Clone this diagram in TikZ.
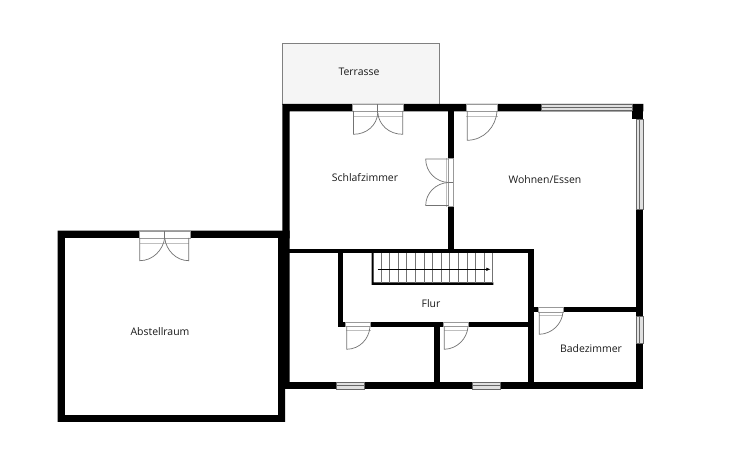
\documentclass[tikz,border=0pt]{standalone}
\usepackage{fontspec}
\usetikzlibrary{arrows.meta}
\setmainfont{Open Sans}
\tikzset{
  wall/.style={fill=black,draw=none},
  opening/.style={fill=white,draw=black!40,line width=.3pt},
  leaf/.style={draw=black!55,line width=.4pt},
  sill/.style={draw=black!25,line width=.4pt},
  glazing/.style={fill=black!12,draw=black!60,line width=.4pt},
  tread/.style={draw=black!55,line width=.4pt},
  roomlabel/.style={font=\fontsize{5.95}{7}\selectfont,text=black!90,inner sep=0pt}
}
\begin{document}
\begin{tikzpicture}[x=.02cm,y=-.02cm,line join=miter,>={Latex[length=2.4pt,width=2pt]}]
\useasboundingbox (0,0) rectangle (741,465);
\filldraw[fill=black!4,draw=black!50,line width=.5pt](282.5,43)--(439,43)--(439,104.5)--(282.5,104.5)--cycle;

\fill[wall](57.5,230.7)--(289.5,230.7)--(289.5,238.3)--(285,238.3)--(285,422)--(57.5,422)--cycle;
\fill[white](65,238.3)--(278,238.3)--(278,414.7)--(65,414.7)--cycle;
\fill[wall](282.3,104)--(643.3,104)--(643.3,111.3)--(289.7,111.3)--(289.7,389)--(282.3,389)--cycle;
\fill[wall](289,381.6)--(643.3,381.6)--(643.3,389.4)--(289,389.4)--cycle;
\fill[wall](635.7,104)--(643.3,104)--(643.3,389)--(635.7,389)--cycle;
\fill[wall](632,104)--(643.3,104)--(643.3,119)--(632,119)--cycle;
\fill[wall](448,111)--(453.5,111)--(453.5,250)--(448,250)--cycle;
\fill[wall](289,248.8)--(533.5,248.8)--(533.5,253.5)--(289,253.5)--cycle;
\fill[wall](337.5,250)--(343,250)--(343,327)--(337.5,327)--cycle;
\fill[wall](337.5,321.8)--(533,321.8)--(533,327)--(337.5,327)--cycle;
\fill[wall](528,249)--(533.5,249)--(533.5,382)--(528,382)--cycle;
\fill[wall](434,322)--(439.5,322)--(439.5,382)--(434,382)--cycle;
\fill[wall](533,307)--(637,307)--(637,312.2)--(533,312.2)--cycle;

\filldraw[glazing](541,104.5)--(632,104.5)--(632,110.8)--(541,110.8)--cycle;
\draw[glazing](541,107.7)--(632,107.7);
\filldraw[glazing](635.9,119)--(643,119)--(643,209)--(635.9,209)--cycle;
\draw[glazing](639.4,119)--(639.4,209);
\filldraw[glazing](635.9,316)--(643,316)--(643,343.3)--(635.9,343.3)--cycle;
\draw[glazing](639.4,316)--(639.4,343.3);
\filldraw[glazing](336,382)--(364.3,382)--(364.3,389)--(336,389)--cycle;
\draw[glazing](336,385.5)--(364.3,385.5);
\filldraw[glazing](472.3,382)--(500,382)--(500,389)--(472.3,389)--cycle;
\draw[glazing](472.3,385.5)--(500,385.5);

\filldraw[opening](352.7,104.5)--(403.3,104.5)--(403.3,111)--(352.7,111)--cycle;
\draw[sill](353,116.7)--(403,116.7);
\draw[leaf](377.8,104.5)--(377.8,113);
\draw[leaf](353.5,111)--(353.5,134.3) .. controls (367,134.3) and (377,125) .. (377.8,113);
\draw[leaf](402.8,111)--(402.8,134.3) .. controls (389,134.3) and (379,125) .. (377.8,113);

\filldraw[opening](466,104.5)--(497.7,104.5)--(497.7,111)--(466,111)--cycle;
\draw[sill](466,116.7)--(497.7,116.7);
\draw[leaf](467.3,111)--(467.3,140.3) .. controls (484,140) and (496,127) .. (497,111);

\filldraw[opening](448.5,158.3)--(453.3,158.3)--(453.3,206.7)--(448.5,206.7)--cycle;
\draw[sill](446,158.3)--(446,206.7);
\draw[leaf](453,182.5)--(448.5,182.5);
\draw[leaf](448.5,159)--(425.7,159) .. controls (425.7,172) and (436,182) .. (448.5,182.5);
\draw[leaf](448.5,205.5)--(425.7,205.5) .. controls (425.7,193) and (436,183) .. (448.5,182.5);

\filldraw[opening](139,231)--(190.3,231)--(190.3,238)--(139,238)--cycle;
\draw[sill](139.7,243.3)--(188.7,243.3);
\draw[leaf](164.7,231)--(164.7,238);
\draw[leaf](139.7,238)--(139.7,260.7) .. controls (153,260.7) and (163,250) .. (164.7,238);
\draw[leaf](188.7,238)--(188.7,260.7) .. controls (176,260.7) and (166,250) .. (164.7,238);

\filldraw[opening](345,322.2)--(370.7,322.2)--(370.7,326.7)--(345,326.7)--cycle;
\draw[sill](346,330)--(370.7,330);
\draw[leaf](346.7,326.7)--(346.7,349.3) .. controls (360,349) and (369,339) .. (370,326.7);
\filldraw[opening](443.3,322.2)--(468.3,322.2)--(468.3,326.7)--(443.3,326.7)--cycle;
\draw[sill](444,330)--(468.3,330);
\draw[leaf](444.3,326.7)--(444.3,349.3) .. controls (457,349) and (467,339) .. (468,326.7);
\filldraw[opening](538.3,307.5)--(563.3,307.5)--(563.3,312)--(538.3,312)--cycle;
\draw[sill](539,315)--(563.3,315);
\draw[leaf](539.3,312)--(539.3,334.3) .. controls (552,334) and (562,324) .. (563,312);

\fill[wall](371.7,253)--(373.5,253)--(373.5,282.3)--(493.3,282.3)--(493.3,285)--(371.7,285)--cycle;
\draw[tread](492.8,253)--(492.8,283);
\draw[tread](381,253)--(381,283)(389.6,253)--(389.6,283)(398.2,253)--(398.2,283)(406.8,253)--(406.8,283)(415.4,253)--(415.4,283)(424,253)--(424,283)(432.6,253)--(432.6,283)(441.2,253)--(441.2,283)(449.8,253)--(449.8,283)(458.4,253)--(458.4,283)(467,253)--(467,283)(475.6,253)--(475.6,283)(484.2,253)--(484.2,283);
\coordinate (stairstart) at (377.7,269.3);
\coordinate (stairend) at (490.5,269.3);
\draw[->,line width=.3pt] (stairstart)--(stairend);

\node[roomlabel] (terrasse) at (359,72) {Terrasse};
\node[roomlabel] (schlaf) at (365,178) {Schlafzimmer};
\node[roomlabel] (wohnen) at (545,180) {Wohnen/Essen};
\node[roomlabel] (flur) at (431,304) {Flur};
\node[roomlabel] (abstell) at (160,332) {Abstellraum};
\node[roomlabel] (bad) at (591,349) {Badezimmer};
\end{tikzpicture}
\end{document}
